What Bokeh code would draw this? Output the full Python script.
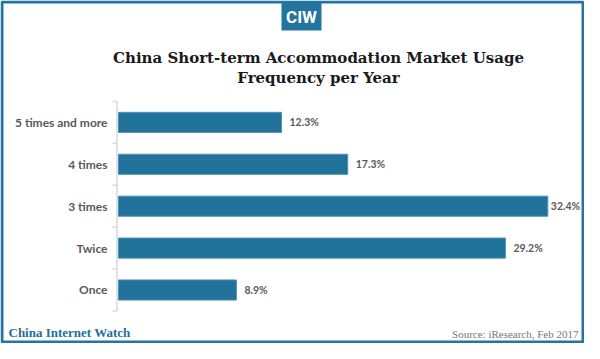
from bokeh.plotting import figure
from bokeh.models import ColumnDataSource, Range1d
from bokeh.core.properties import value
from bokeh.embed import file_html
from bokeh.resources import INLINE

# ---- data ----
categories = ["Once", "Twice", "3 times", "4 times", "5 times and more"]
shares = [8.9, 29.2, 32.4, 17.3, 12.3]
share_labels = ["8.9%", "29.2%", "32.4%", "17.3%", "12.3%"]

title_lines = ["China Short-term Accommodation Market Usage", "Frequency per Year"]
brand_text = ["China Internet Watch"]
source_text = ["Source: iResearch, Feb 2017"]
logo_text = ["CIW"]

# ---- styles ----
W, H = 584, 343
BLUE = "#21739b"
FRAME_BLUE = "#2474a0"
EDGE = "#4f91b9"
GRAY = "#595959"
AXIS = "#d9d9d9"

# main ranges = canvas pixels (for the page decorations)
p = figure(width=W, height=H, output_backend="svg", toolbar_location=None,
           x_range=Range1d(0, W), y_range=Range1d(H, 0),
           x_axis_location=None, y_axis_location=None,
           min_border=0, min_border_left=0, min_border_right=0,
           min_border_top=0, min_border_bottom=0)
p.outline_line_color = None
p.xgrid.visible = False
p.ygrid.visible = False
p.background_fill_color = "white"
p.border_fill_color = "white"

# data ranges: value axis (percent) and category index
p.extra_x_ranges = {"val": Range1d(-8.906, 35.170)}
p.extra_y_ranges = {"cat": Range1d(-1.277, 6.909)}

idx = list(range(len(categories)))
src = ColumnDataSource(dict(
    cat=categories, pos=idx, val=shares, lab=share_labels,
    off=[3 if v == max(shares) else 8 for v in shares],
))

# category axis line and boundary ticks
lo, hi = -0.5, len(categories) - 0.5
p.segment(x0=[-0.113], x1=[-0.113], y0=[lo], y1=[hi],
          x_range_name="val", y_range_name="cat", line_color=AXIS, line_width=1.5)
bounds = [i - 0.5 for i in idx] + [hi]
p.segment(x0=-0.453, x1=-0.113, y0=bounds, y1=bounds,
          x_range_name="val", y_range_name="cat", line_color=AXIS, line_width=1.5)

# bars
p.hbar(y="pos", left=0, right="val", height=0.48, source=src,
       x_range_name="val", y_range_name="cat",
       fill_color=BLUE, line_color=EDGE, line_width=1)

# category labels
p.text(x=0, y="pos", text="cat", source=src, x_offset=-11,
       x_range_name="val", y_range_name="cat",
       text_align="right", text_baseline="middle",
       text_font=value("Lato"), text_font_style="bold",
       text_font_size="12px", text_color=GRAY)

# value labels
p.text(x="val", y="pos", text="lab", x_offset="off", source=src,
       x_range_name="val", y_range_name="cat",
       text_baseline="middle", text_align="left",
       text_font=value("Lato"), text_font_style="bold",
       text_font_size="10.5px", text_color=GRAY)

# ---- decorations (canvas pixel coordinates) ----
p.quad(left=[1.5], right=[582.5], top=[1.5], bottom=[341.5],
       fill_color=None, line_color=FRAME_BLUE, line_width=3)
p.quad(left=[281], right=[321], top=[1.5], bottom=[30],
       fill_color=FRAME_BLUE, line_color=None)
p.text(x=[301], y=[16.5], text=logo_text, text_align="center", text_baseline="middle",
       text_font=value("Roboto"), text_font_style="bold",
       text_font_size="17px", text_color="white")

p.text(x=[318, 318], y=[57, 77], text=title_lines,
       text_align="center", text_baseline="middle",
       text_font=value("DejaVu Serif"), text_font_style="bold",
       text_font_size="15px", text_color="#1a1a1a")

p.text(x=[8], y=[332], text=brand_text, text_align="left", text_baseline="middle",
       text_font=value("Liberation Serif"), text_font_style="bold",
       text_font_size="13px", text_color="#1f6f9a")
p.text(x=[578], y=[333], text=source_text, text_align="right", text_baseline="middle",
       text_font=value("Liberation Serif"), text_font_size="11px",
       text_color="#777777")

open("out.html", "w").write(file_html(p, INLINE))
